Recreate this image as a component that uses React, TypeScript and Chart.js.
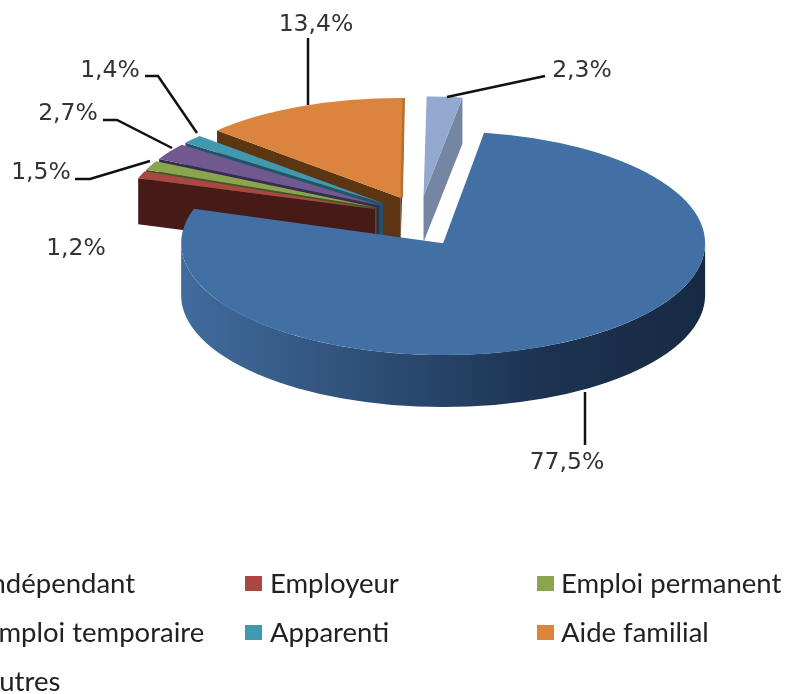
import React, { useEffect, useRef } from "react";
import { Chart, registerables } from "chart.js";

Chart.register(...registerables);

const categories = ["Indépendant", "Employeur", "Emploi permanent", "Emploi temporaire", "Apparenti", "Aide familial", "Autres"];
const shares = [77.5, 1.2, 1.5, 2.7, 1.4, 13.4, 2.3];
const faceColors = ["#4270A5", "#AA4643", "#89A54E", "#71588F", "#4198AF", "#DB843D", "#93A9CF"];
const wallColors = ["#2B4A70", "#451A17", "#3F5A1E", "#3A2A52", "#1F5566", "#5C3512", "#7586A3"];
const paintOrder = [6, 5, 4, 3, 2, 1, 0];

const ROTATION = 9;
const CX = 417, CY = 225, EXPLODE = 50;
const FRONT = { scale: 1, tilt: 0.427, lift: 0, shift: 0, depth: 52 };
const BACK = { scale: 0.95, tilt: 0.4, lift: -9, shift: 2.5, depth: 46 };
const TEXT = "#333333";
const LABEL_FONT = "23.5px 'DejaVu Sans'";
const LEGEND_FONT = "27.5px Lato";

const fmt = (v: number) => v.toFixed(1).replace(".", ",") + "%";

const labelAnchors = [
  { x: 567, y: 463, line: [[585, 392], [585, 445]] },
  { x: 76, y: 249, line: [] },
  { x: 41, y: 173, line: [[75, 179], [90, 179], [150, 161]] },
  { x: 68, y: 114, line: [[103, 120], [117, 120], [172, 148]] },
  { x: 110, y: 71, line: [[145, 76], [158, 76], [197, 133]] },
  { x: 316, y: 25, line: [[308, 38], [308, 105]] },
  { x: 582, y: 71, line: [[447, 97], [545, 76]] },
];
const legendSlots = [
  { x: -52, y: 584, tx: -17 },
  { x: 245, y: 584, tx: 270 },
  { x: 537, y: 584, tx: 561 },
  { x: -52, y: 633, tx: -17 },
  { x: 245, y: 633, tx: 270 },
  { x: 537, y: 633, tx: 561 },
  { x: -52, y: 682, tx: -19 },
];

const pie3d = {
  id: "pie3d",
  beforeDatasetDraw(chart: any) {
    const ctx: CanvasRenderingContext2D = chart.ctx;
    const arcs = chart.getDatasetMeta(0).data;
    for (const i of paintOrder) {
      const arc = arcs[i];
      const g = i === 0 ? FRONT : BACK;
      const mid = (arc.startAngle + arc.endAngle) / 2;
      const ax = CX + Math.cos(mid) * EXPLODE * g.scale + g.shift;
      const ay = CY + Math.sin(mid) * EXPLODE * g.tilt + g.lift;
      const R = arc.outerRadius * g.scale;
      const rim = (a: number) => [ax + R * Math.cos(a), ay + R * g.tilt * Math.sin(a)];
      ctx.fillStyle = wallColors[i];
      const quad = (a: number) => {
        const [x, y] = rim(a);
        ctx.beginPath();
        ctx.moveTo(ax, ay);
        ctx.lineTo(x, y);
        ctx.lineTo(x, y + g.depth);
        ctx.lineTo(ax, ay + g.depth);
        ctx.closePath();
        ctx.fill();
      };
      if (Math.cos(arc.endAngle) > 0) quad(arc.endAngle);
      if (Math.cos(arc.startAngle) < 0) quad(arc.startAngle);
      const s = Math.max(arc.startAngle, 0);
      const e = Math.min(arc.endAngle, Math.PI);
      if (e > s) {
        const grad = ctx.createLinearGradient(ax + R, 0, ax - R, 0);
        grad.addColorStop(0, "#172A43");
        grad.addColorStop(0.3, "#1C3250");
        grad.addColorStop(0.6, "#2C4B72");
        grad.addColorStop(1, "#416C9E");
        ctx.fillStyle = i === 0 ? grad : wallColors[i];
        ctx.beginPath();
        ctx.ellipse(ax, ay, R, R * g.tilt, 0, s, e);
        ctx.ellipse(ax, ay + g.depth, R, R * g.tilt, 0, e, s, true);
        ctx.closePath();
        ctx.fill();
      }
      ctx.save();
      ctx.translate(ax, ay);
      ctx.scale(g.scale, g.scale * g.tilt);
      ctx.translate(-arc.x, -arc.y);
      arc.draw(ctx);
      ctx.restore();
      if (arc.endAngle - arc.startAngle > 0.6 && i !== 0) {
        const [x, y] = rim(arc.endAngle);
        ctx.strokeStyle = "#B5702F";
        ctx.lineWidth = 2.5;
        ctx.beginPath();
        ctx.moveTo(ax + 1, ay);
        ctx.lineTo(x, y);
        ctx.stroke();
      }
    }
    return false;
  },
  afterDatasetsDraw(chart: any) {
    const ctx: CanvasRenderingContext2D = chart.ctx;
    ctx.save();
    ctx.textBaseline = "middle";
    ctx.textAlign = "center";
    ctx.font = LABEL_FONT;
    shares.forEach((v, i) => {
      const a = labelAnchors[i];
      ctx.fillStyle = TEXT;
      ctx.fillText(fmt(v), a.x, a.y);
      if (a.line.length) {
        ctx.strokeStyle = "#111111";
        ctx.lineWidth = 2.5;
        ctx.beginPath();
        a.line.forEach(([x, y], k) => (k ? ctx.lineTo(x, y) : ctx.moveTo(x, y)));
        ctx.stroke();
      }
    });
    ctx.textAlign = "left";
    ctx.font = LEGEND_FONT;
    categories.forEach((c, i) => {
      const s = legendSlots[i];
      ctx.fillStyle = faceColors[i];
      ctx.fillRect(s.x, s.y - 8, 17, 15);
      ctx.fillStyle = "#222222";
      ctx.fillText(c, s.tx, s.y);
    });
    ctx.restore();
  },
};

export default function App() {
  const ref = useRef<HTMLCanvasElement>(null);
  useEffect(() => {
    const chart = new Chart(ref.current!, {
      type: "pie",
      data: {
        labels: categories,
        datasets: [{ data: shares, backgroundColor: faceColors, borderWidth: 0 }],
      },
      options: {
        animation: false,
        responsive: false,
        rotation: ROTATION,
        layout: { padding: { top: 85, bottom: 85 } },
        plugins: { legend: { display: false }, tooltip: { enabled: false } },
      },
      plugins: [pie3d],
    } as any);
    return () => chart.destroy();
  }, []);
  return (
    <div style={{ position: "absolute", left: 0, top: 0, width: 788, height: 694, overflow: "hidden", background: "#fff" }}>
      <canvas ref={ref} width={788} height={694} style={{ display: "block", filter: "blur(0.7px)" }} />
    </div>
  );
}
